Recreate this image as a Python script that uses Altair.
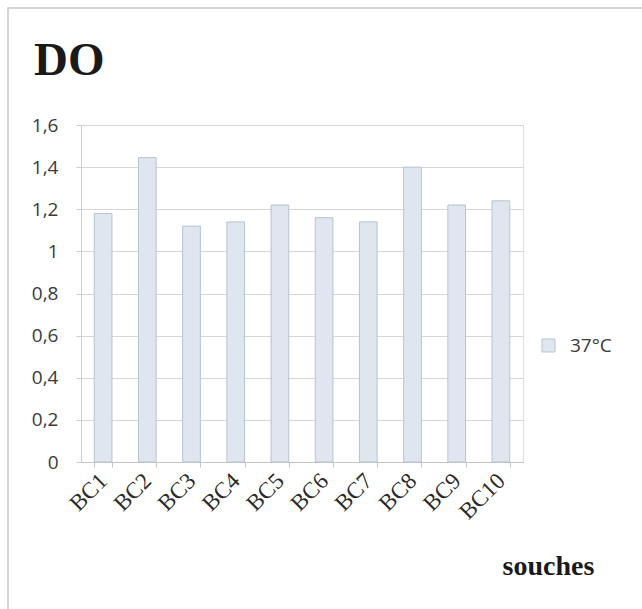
import altair as alt
import pandas as pd

# Optical density per strain at 37°C
souches = ["BC1", "BC2", "BC3", "BC4", "BC5", "BC6", "BC7", "BC8", "BC9", "BC10"]
do_37 = [1.18, 1.445, 1.12, 1.14, 1.22, 1.16, 1.14, 1.40, 1.22, 1.24]
serie = "37°C"
y_ticks = [0, 0.2, 0.4, 0.6, 0.8, 1.0, 1.2, 1.4, 1.6]

df = pd.DataFrame({"souche": souches, "do": do_37, "serie": [serie] * len(souches)})

W, H = 442, 337
label_expr = "replace(format(datum.value, '.1~f'), '.', ',')"

bars = alt.Chart(df).mark_bar(
    stroke="#b7c2d2", strokeWidth=1, fill="#dfe6ef"
).encode(
    x=alt.X(
        "souche:N",
        sort=souches,
        scale=alt.Scale(paddingInner=0.6, paddingOuter=0.3),
        axis=alt.Axis(
            title="souches",
            titleFont="Liberation Serif",
            titleFontSize=28,
            titleFontWeight="bold",
            titleColor="#1a1a1a",
            titleX=467,
            titleY=112,
            titleAlign="center",
            titleBaseline="alphabetic",
            labelAngle=-45,
            labelAlign="right",
            labelBaseline="middle",
            labelFont="Liberation Serif",
            labelFontSize=23,
            labelColor="#2a2a2a",
            labelPadding=10,
            tickBand="extent",
            tickSize=5,
            tickColor="#c4c4c4",
            domainColor="#c4c4c4",
            grid=False,
        ),
    ),
    y=alt.Y(
        "do:Q",
        scale=alt.Scale(domain=[0, 1.6], nice=False),
        axis=alt.Axis(
            title=None,
            values=y_ticks,
            labelExpr=label_expr,
            labelFont="Open Sans",
            labelFontSize=19,
            labelColor="#3a3a3a",
            labelPadding=18,
            tickSize=5,
            tickColor="#cccccc",
            domainColor="#cccccc",
            gridColor="#d6d6d6",
        ),
    ),
    color=alt.Color(
        "serie:N",
        scale=alt.Scale(range=["#dfe6ef"]),
        legend=alt.Legend(
            title=None,
            orient="none",
            legendX=458,
            legendY=211,
            symbolType="square",
            symbolSize=170,
            symbolStrokeColor="#b7c2d2",
            symbolStrokeWidth=1,
            labelFont="Open Sans",
            labelFontSize=19,
            labelColor="#3a3a3a",
            labelOffset=12,
        ),
    ),
)

titre = alt.Chart(alt.Data(values=[{"t": "DO"}])).mark_text(
    font="Liberation Serif", fontSize=47, fontWeight="bold",
    align="left", baseline="alphabetic", color="#1a1a1a"
).encode(x=alt.value(-47), y=alt.value(-50), text="t:N")

cadre = alt.Chart(alt.Data(values=[{}])).mark_rect(
    fill=None, stroke="#c8c8c8", strokeWidth=1.5
).encode(x=alt.value(-73), x2=alt.value(570), y=alt.value(-117), y2=alt.value(495))

chart = alt.layer(cadre, bars, titre).properties(
    width=W, height=H,
    padding={"left": 81, "top": 125, "right": 119, "bottom": 147},
    autosize=alt.AutoSizeParams(type="none"),
).configure_view(strokeWidth=0).configure(background="white")

chart.save("out.html", embed_options={"renderer": "svg", "actions": False})
